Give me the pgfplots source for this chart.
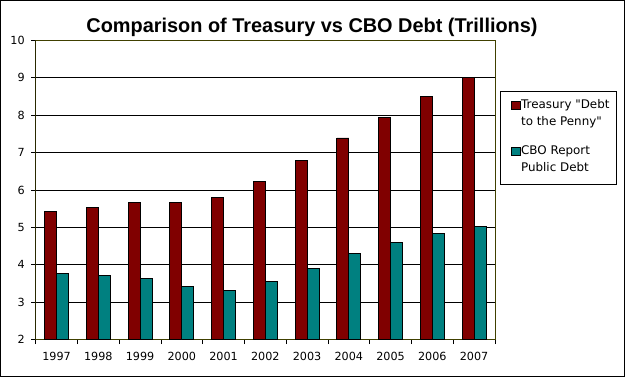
\documentclass[border=0pt]{standalone}
\usepackage{pgfplots}
\pgfplotsset{compat=1.18}
\usepackage{fontspec}
\setmainfont{DejaVu Sans}[Ligatures=TeXOff]
\newfontfamily\titlefont{Liberation Sans}
\definecolor{treas}{RGB}{128,0,0}
\definecolor{cbo}{RGB}{0,128,128}
\definecolor{frameol}{RGB}{64,64,0}
\newcommand\legtext[1]{\fontsize{11.9}{17}\selectfont\raisebox{5.9pt}{\makebox[88pt][l]{\begin{tabular}[b]{@{}l@{}}#1\end{tabular}}}}
\begin{document}
\begin{tikzpicture}[x=1pt,y=1pt]
\draw[black,line width=1pt,fill=white] (0.5,0.5) rectangle (624.5,376.5);
\node[font=\titlefont\bfseries\fontsize{19.9}{22}\selectfont,anchor=base] at (312,344.5) {Comparison of Treasury vs CBO Debt (Trillions)};
\begin{axis}[
  at={(35.7pt,37.3pt)}, anchor=south west,
  scale only axis, width=459.3pt, height=299.4pt,
  xmin=-0.5, xmax=10.5, ymin=2, ymax=10,
  ytick={2,...,10},
  xtick={-0.5,0.5,...,10.5}, xticklabels={},
  extra x ticks={0,1,2,3,4,5,6,7,8,9,10},
  extra x tick labels={1997,1998,1999,2000,2001,2002,2003,2004,2005,2006,2007},
  extra x tick style={major tick length=0pt, xticklabel style={yshift=-9pt}},
  yticklabel style={xshift=-3pt},
  tick align=outside, major tick length=4.5pt,
  xtick pos=left, ytick pos=left,
  tick style={black, line width=0.8pt},
  ymajorgrids, grid style={black, line width=0.8pt},
  axis line style={frameol, line width=0.8pt},
  /pgf/number format/assume math mode=true,
  tick label style={font=\fontsize{11.2}{13}\selectfont},
  ybar=0pt, bar width=0.287,
  legend image code/.code={\path (0pt,0pt); \draw[#1,draw=black,line width=0.6pt] (4pt,22.4pt) rectangle (13pt,30.4pt);},
  legend style={at={(1.0109,0.8307)}, anchor=north west, draw=black, line width=0.8pt, fill=white,
    font=\fontsize{11.9}{17}\selectfont, inner xsep=6pt, inner ysep=3.1pt, row sep=6.2pt,
    cells={anchor=base west},
    nodes={inner xsep=1pt, inner ysep=2pt}},
]
\addplot[fill=treas, draw=black, line width=0.8pt] coordinates {
(0,5.43) (1,5.54) (2,5.67) (3,5.67) (4,5.81) (5,6.24) (6,6.80) (7,7.39) (8,7.95) (9,8.51) (10,9.00)};
\addlegendentry{\legtext{Treasury "Debt\\to the Penny"}}
\addplot[fill=cbo, draw=black, line width=0.8pt] coordinates {
(0,3.78) (1,3.72) (2,3.64) (3,3.43) (4,3.32) (5,3.56) (6,3.91) (7,4.31) (8,4.60) (9,4.85) (10,5.03)};
\addlegendentry{\legtext{CBO Report\\Public Debt}}
\draw[black, line width=0.8pt] (rel axis cs:0,0) -- (rel axis cs:0,1);
\end{axis}
\end{tikzpicture}
\end{document}
